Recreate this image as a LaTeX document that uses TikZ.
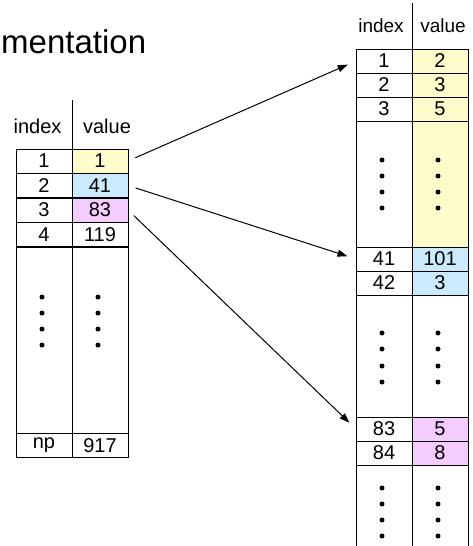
\documentclass[tikz,border=0pt]{standalone}
\usepackage{fontspec}
\setmainfont{Liberation Sans}
\usetikzlibrary{arrows.meta}
\definecolor{cellyellow}{RGB}{255,252,204}
\definecolor{cellblue}{RGB}{204,234,254}
\definecolor{cellpink}{RGB}{244,204,254}

\begin{document}
\begin{tikzpicture}[x=1pt,y=-1pt,
  cell/.style={draw,minimum width=56pt,minimum height=24pt,inner sep=0pt,outer sep=0pt,font=\fontsize{20}{20}\selectfont},
  head/.style={anchor=base,inner sep=0pt,font=\fontsize{20}{20}\selectfont},
  link/.style={-{Triangle[length=10pt,width=7pt]},line width=1pt,shorten <=8pt,shorten >=9pt}]
\useasboundingbox (0,0) rectangle (472,546);
\node[anchor=base west,inner sep=0pt,font=\fontsize{33}{33}\selectfont] (title) at (1,53) {mentation};

% left table
\node[head] (lhi) at (37.5,133) {index};
\node[head] (lhv) at (107,133) {value};
\node[cell] (li1) at (44,161) {1};
\node[cell,fill=cellyellow] (lv1) at (100,161) {1};
\node[cell] (li2) at (44,185.5) {2};
\node[cell,fill=cellblue] (lv2) at (100,185.5) {41};
\node[cell] (li3) at (44,210) {3};
\node[cell,fill=cellpink] (lv3) at (100,210) {83};
\node[cell] (li4) at (44,234.5) {4};
\node[cell] (lv4) at (100,234.5) {119};
\node[cell,minimum height=186pt] (li5) at (44,340) {};
\node[cell,minimum height=186pt] (lv5) at (100,340) {};
\node[cell] (li6) at (44,445.5) {np};
\node[cell] (lv6) at (100,445.5) {917};
\coordinate (ltop) at (72,100);
\draw (ltop) -- (lv1.north west);
\foreach \x in {42,98} \foreach \y in {297,313,329,345} \fill (\x,\y) circle (2.5pt);

% right table
\node[head,font=\fontsize{19}{19}\selectfont] (rhi) at (381,32) {index};
\node[head,font=\fontsize{19}{19}\selectfont] (rhv) at (443,32) {value};
\node[cell] (ri1) at (384,61) {1};
\node[cell,fill=cellyellow] (rv1) at (440,61) {2};
\node[cell] (ri2) at (384,85) {2};
\node[cell,fill=cellyellow] (rv2) at (440,85) {3};
\node[cell] (ri3) at (384,109) {3};
\node[cell,fill=cellyellow] (rv3) at (440,109) {5};
\node[cell,minimum height=126pt] (ri4) at (384,184) {};
\node[cell,fill=cellyellow,minimum height=126pt] (rv4) at (440,184) {};
\node[cell] (ri41) at (384,259) {41};
\node[cell,fill=cellblue] (rv41) at (440,259) {101};
\node[cell] (ri42) at (384,283) {42};
\node[cell,fill=cellblue] (rv42) at (440,283) {3};
\node[cell,minimum height=122pt] (ri5) at (384,356) {};
\node[cell,minimum height=122pt] (rv5) at (440,356) {};
\node[cell] (ri83) at (384,429) {83};
\node[cell,fill=cellpink] (rv83) at (440,429) {5};
\node[cell] (ri84) at (384,453) {84};
\node[cell,fill=cellpink] (rv84) at (440,453) {8};
\node[cell,minimum height=90pt] (ri6) at (384,510) {};
\node[cell,minimum height=90pt] (rv6) at (440,510) {};
\coordinate (rtop) at (412,3);
\draw (rtop) -- (rv1.north west);
\foreach \x in {382,438} \foreach \y in {160,176,192,208,333,349,366,382,488,504,520,536} \fill (\x,\y) circle (2.5pt);

\draw[link] (lv1.east) -- (ri1.west);
\draw[link] (lv2.east) -- (ri41.west);
\draw[link] (lv3.east) -- (ri83.west);
\end{tikzpicture}
\end{document}
